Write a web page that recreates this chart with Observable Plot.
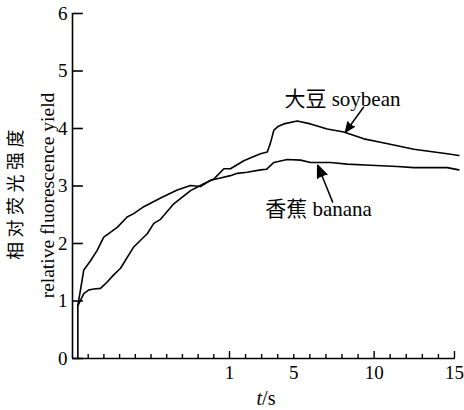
<!DOCTYPE html>
<html lang="zh"><head><meta charset="utf-8">
<script src="https://cdn.jsdelivr.net/npm/d3@7"></script>
<script src="https://cdn.jsdelivr.net/npm/@observablehq/plot@0.6"></script>
<style>
html,body{margin:0;padding:0;background:#ffffff}
#chart svg{display:block}
#chart svg text{font-family:"Liberation Serif","Noto Sans CJK SC",serif !important;}
#chart svg text.zh{font-family:"Noto Sans CJK SC",sans-serif !important;}
</style>
</head><body><div id="chart"></div>
<script>
// soybean (大豆) — time in s, relative fluorescence yield
const soybeanTime = [0.034, 0.034, 0.072, 0.102, 0.136, 0.178, 0.221, 0.261, 0.306, 0.39, 0.476, 0.518, 0.561, 0.645, 0.752, 0.836, 0.9, 0.964, 1.06, 1.89, 2.4, 2.93, 3.35, 3.55, 3.76, 4.05, 4.38, 5.21, 6.04, 7.08, 8.11, 9.36, 10.4, 11.44, 12.47, 13.51, 14.55, 15.27];
const soybeanYield = [0, 0.92, 1.13, 1.19, 1.21, 1.22, 1.33, 1.45, 1.57, 1.94, 2.17, 2.35, 2.42, 2.69, 2.92, 3.04, 3.12, 3.30, 3.30, 3.44, 3.50, 3.56, 3.59, 3.75, 3.97, 4.04, 4.08, 4.13, 4.08, 3.99, 3.94, 3.82, 3.76, 3.70, 3.64, 3.60, 3.56, 3.53];
// banana (香蕉)
const bananaTime = [0.034, 0.072, 0.115, 0.157, 0.199, 0.285, 0.348, 0.39, 0.454, 0.497, 0.561, 0.667, 0.752, 0.815, 0.879, 0.943, 1.06, 1.48, 2.1, 2.93, 3.3, 3.76, 4.59, 5.42, 6.04, 7.29, 8.32, 9.77, 11.44, 12.47, 14.55, 15.27];
const bananaYield = [0.92, 1.54, 1.70, 1.88, 2.11, 2.28, 2.46, 2.52, 2.64, 2.70, 2.79, 2.93, 3.01, 2.99, 3.10, 3.14, 3.18, 3.22, 3.24, 3.28, 3.29, 3.41, 3.46, 3.45, 3.41, 3.41, 3.38, 3.36, 3.34, 3.32, 3.32, 3.28];

const xMinor = [0.1, 0.2, 0.3, 0.4, 0.5, 0.6, 0.7, 0.8, 0.9, 2, 3, 4, 5, 6, 7, 8, 9, 11, 12, 13, 14];
const xMajor = [1, 10, 15];
const xLabels = [1, 5, 10, 15];
const yLabels = [0, 1, 2, 3, 4, 5, 6];

const annotNames = ["大豆 soybean", "香蕉 banana"];
const annotTime = [8.03, 6.54];
const annotYield = [4.50, 2.59];
const arrowFromT = [9.34, 7.42], arrowFromY = [4.37, 2.72];
const arrowToT = [8.22, 6.49], arrowToY = [3.94, 3.36];

const titleZh = "相对荧光强度";
const titleEn = "relative fluorescence yield";
const titleX = "t/s";

function build() {
  const soyRows = soybeanTime.map((t, i) => ({t, y: soybeanYield[i]}));
  const banRows = bananaTime.map((t, i) => ({t, y: bananaYield[i]}));
  const annRows = annotNames.map((name, i) => ({name, t: annotTime[i], y: annotYield[i]}));
  const arrRows = arrowFromT.map((t, i) => ({a: t, b: arrowFromY[i], c: arrowToT[i], d: arrowToY[i]}));
  const yTickRows = yLabels.map(y => ({y, x0: 0, x1: 0.066}));

  const chart = Plot.plot({
    width: 464, height: 410,
    marginLeft: 72, marginRight: 5, marginTop: 13, marginBottom: 52,
    x: {type: "linear", domain: [0, 1, 15.3], range: [72, 229, 458.8], axis: null, label: null},
    y: {domain: [0, 6], axis: null, label: null},
    marks: [
      Plot.ruleY([0], {x1: 0, x2: 15.05, stroke: "black", strokeWidth: 1.6}),
      Plot.ruleX([0], {y1: 0, y2: 6, stroke: "black", strokeWidth: 1.6}),
      Plot.link(yTickRows, {x1: "x0", x2: "x1", y1: "y", y2: "y", stroke: "black", strokeWidth: 1.6}),
      Plot.axisX(xMinor, {anchor: "bottom", tickSize: -4, tickFormat: () => "", strokeWidth: 1.4, label: null}),
      Plot.axisX(xMajor, {anchor: "bottom", tickSize: -7, tickFormat: () => "", strokeWidth: 1.4, label: null}),
      Plot.axisX(xLabels, {anchor: "bottom", tickSize: 0, tickPadding: 7, fontSize: 19, tickFormat: d => String(d), label: null}),
      Plot.axisY(yLabels, {anchor: "left", tickSize: 0, tickPadding: 5, fontSize: 19, tickFormat: d => String(d), label: null}),
      Plot.line(soyRows, {x: "t", y: "y", stroke: "black", strokeWidth: 1.6}),
      Plot.line(banRows, {x: "t", y: "y", stroke: "black", strokeWidth: 1.6}),
      Plot.arrow(arrRows, {x1: "a", y1: "b", x2: "c", y2: "d", stroke: "black", fill: "black", strokeWidth: 1.5, headLength: 13, headAngle: 45}),
      Plot.text(annRows, {x: "t", y: "y", text: "name", fontSize: 21, textAnchor: "middle", lineAnchor: "middle"}),
      Plot.text([titleZh], {frameAnchor: "left", rotate: -90, dx: -56.5, dy: 6.5, fontSize: 18, textAnchor: "middle", lineAnchor: "middle"}),
      Plot.text([titleEn], {frameAnchor: "left", rotate: -90, dx: -24.5, dy: 9.5, fontSize: 19.5, textAnchor: "middle", lineAnchor: "middle"}),
      Plot.text([titleX], {frameAnchor: "bottom", dy: 40, fontSize: 20, textAnchor: "middle", lineAnchor: "middle"})
    ]
  });

  d3.select(chart).selectAll("text").each(function() {
    const node = d3.select(this);
    const s = this.textContent;
    if (s === titleZh) { node.classed("zh", true).attr("letter-spacing", 4.5); }
    else if (s === titleX) {
      node.text(null);
      node.append("tspan").attr("font-style", "italic").text("t");
      node.append("tspan").text("/s");
    }
    node.attr("fill", "black");
  });
  return chart;
}
document.getElementById("chart").appendChild(build());
</script>
</body></html>
